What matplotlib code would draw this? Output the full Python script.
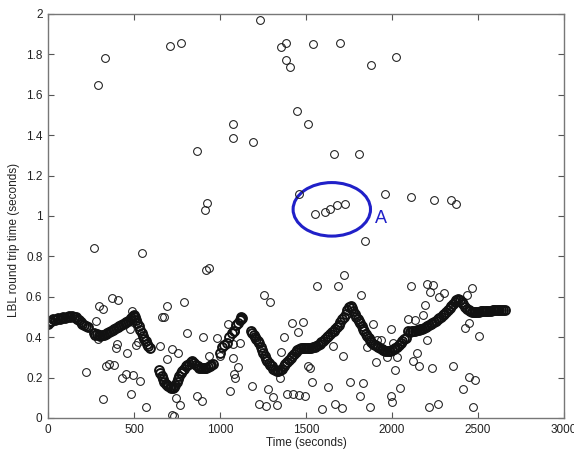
import numpy as np
import matplotlib
matplotlib.use("Agg")
import matplotlib.pyplot as plt
from matplotlib.patches import Ellipse

# dense trace of round trip times, one block per segment (time s, rtt s)
seg1_t = [0, 10, 20, 30, 40, 50, 60, 70, 80, 90, 100, 110, 120, 130, 140, 150, 160, 170, 180, 190,
          200, 210, 220, 230]
seg1_y = [0.465, 0.475, 0.48, 0.49, 0.485, 0.49, 0.495, 0.49, 0.495, 0.50, 0.495, 0.50, 0.505, 0.50,
          0.505, 0.50, 0.50, 0.49, 0.485, 0.475, 0.465, 0.46, 0.455, 0.45]

seg2_t = [265, 275, 285, 295, 305, 315, 325, 335, 345, 355, 365, 375, 385, 395, 405, 415, 425, 435,
          445, 455, 465, 475, 485, 492, 500, 505, 512, 520, 528, 536, 544, 552, 560, 568, 576, 584, 592]
seg2_y = [0.42, 0.41, 0.415, 0.41, 0.405, 0.41, 0.41, 0.415, 0.42, 0.425, 0.43, 0.435, 0.44, 0.445,
          0.45, 0.455, 0.46, 0.465, 0.47, 0.475, 0.48, 0.485, 0.495, 0.505, 0.51, 0.50, 0.485, 0.47,
          0.455, 0.435, 0.42, 0.405, 0.39, 0.38, 0.365, 0.355, 0.345]

seg3_t = [645, 652, 660, 668, 676, 684, 692, 700, 708, 716, 724, 732, 740, 748, 756, 764, 772, 780,
          790, 800, 810, 820, 830, 840, 850, 860, 870, 880, 890, 900, 910, 920, 930, 940, 950, 960]
seg3_y = [0.24, 0.225, 0.21, 0.195, 0.18, 0.17, 0.165, 0.16, 0.155, 0.15, 0.15, 0.155, 0.165, 0.18,
          0.195, 0.21, 0.225, 0.235, 0.245, 0.255, 0.262, 0.268, 0.275, 0.28, 0.27, 0.26, 0.255, 0.25,
          0.25, 0.248, 0.25, 0.25, 0.252, 0.255, 0.26, 0.265]

seg4_t = [1000, 1010, 1025, 1040, 1055, 1070, 1080, 1095, 1105, 1115, 1120, 1125, 1130]
seg4_y = [0.32, 0.35, 0.36, 0.37, 0.40, 0.42, 0.43, 0.46, 0.47, 0.485, 0.49, 0.50, 0.495]

seg5_t = [1180, 1188, 1196, 1204, 1212, 1220, 1228, 1236, 1244, 1252, 1260, 1268, 1276, 1284, 1292,
          1300, 1310, 1320, 1330, 1340, 1350, 1360, 1370, 1380, 1390, 1400, 1410, 1420, 1430, 1440,
          1450, 1460, 1470, 1480, 1490, 1500, 1510, 1520, 1530, 1540, 1550, 1560, 1570, 1580, 1590,
          1600, 1610, 1620, 1630, 1640, 1650, 1660, 1670, 1680, 1690, 1700, 1710, 1720, 1730, 1740,
          1750, 1760, 1768, 1776, 1784, 1792, 1800, 1808, 1816, 1824, 1832, 1840, 1848, 1856, 1864,
          1872, 1880, 1890, 1900, 1910, 1920, 1930, 1940, 1950, 1960, 1970, 1980, 1990, 2000, 2010,
          2020, 2030, 2040, 2050, 2060, 2070, 2080]
seg5_y = [0.43, 0.42, 0.41, 0.40, 0.39, 0.38, 0.37, 0.35, 0.335, 0.32, 0.305, 0.29, 0.28, 0.27, 0.26,
          0.255, 0.245, 0.24, 0.235, 0.235, 0.24, 0.245, 0.255, 0.265, 0.275, 0.285, 0.295, 0.305,
          0.315, 0.325, 0.335, 0.34, 0.345, 0.345, 0.345, 0.345, 0.345, 0.345, 0.345, 0.35, 0.35,
          0.355, 0.36, 0.365, 0.375, 0.38, 0.39, 0.40, 0.405, 0.415, 0.425, 0.43, 0.44, 0.45, 0.46,
          0.475, 0.49, 0.50, 0.515, 0.535, 0.55, 0.555, 0.545, 0.53, 0.515, 0.50, 0.49, 0.48, 0.47,
          0.455, 0.44, 0.43, 0.415, 0.405, 0.395, 0.385, 0.375, 0.365, 0.36, 0.355, 0.35, 0.345,
          0.34, 0.335, 0.33, 0.33, 0.33, 0.33, 0.335, 0.34, 0.345, 0.35, 0.36, 0.37, 0.38, 0.39, 0.395]

seg6_t = [2095, 2105, 2115, 2125, 2135, 2145, 2155, 2165, 2175, 2185, 2195, 2205, 2215, 2225, 2235,
          2245, 2255, 2265, 2275, 2285, 2295, 2305, 2315, 2325, 2335, 2345, 2355, 2365, 2375, 2385,
          2395, 2405, 2415, 2425, 2435, 2445, 2455, 2465, 2475, 2485, 2495, 2505, 2515, 2525, 2535,
          2545, 2555, 2565, 2575, 2585, 2595, 2605, 2615, 2625, 2635, 2645, 2655]
seg6_y = [0.43, 0.425, 0.43, 0.43, 0.43, 0.435, 0.435, 0.44, 0.44, 0.445, 0.45, 0.455, 0.46, 0.465,
          0.47, 0.475, 0.48, 0.49, 0.495, 0.50, 0.51, 0.515, 0.525, 0.535, 0.545, 0.555, 0.565, 0.575,
          0.585, 0.59, 0.585, 0.575, 0.565, 0.55, 0.54, 0.535, 0.53, 0.525, 0.525, 0.525, 0.525, 0.525,
          0.528, 0.53, 0.53, 0.53, 0.53, 0.532, 0.532, 0.533, 0.533, 0.535, 0.535, 0.535, 0.535,
          0.535, 0.535]

# scattered outliers
out_t = [290, 330, 709, 773, 1233, 1355, 1382, 1384, 1405, 1450, 864, 1077, 1074, 1194, 924, 911,
         267, 547, 917, 934, 1543, 1700, 1880, 2025, 1514, 1663, 1810, 1457, 1552, 1610, 1640, 1682,
         1729, 1961, 2112, 2246, 2345, 2372, 1845, 1723, 1566, 1688, 2108, 2201, 2236, 2465,
         219, 277, 295, 322, 370, 407, 292, 318, 337, 355, 382, 395, 403, 428, 452, 459, 483, 494,
         512, 525, 535, 475, 568, 488, 651, 661, 674, 690, 719, 758, 694, 744, 769, 723, 731, 791,
         806, 864, 895, 901, 938, 985, 1000, 1048, 1058, 1074, 1077, 1083, 1089, 1103, 1089, 1116,
         1188, 1227, 1265, 1258, 1291, 1277, 1306, 1333, 1349, 1355, 1374, 1391, 1426, 1420, 1455,
         1461, 1494, 1484, 1820, 1659, 1713, 1891, 1856, 1911, 1934, 1905, 1992, 2008, 1969, 2031,
         2017, 2047, 1994, 2000, 2095, 2134, 2182, 2192, 2147, 2124, 2159, 2201, 2231, 2221, 2275,
         2304, 2217, 2269, 2353, 2415, 2448, 2484, 2469, 2424, 2448, 2508, 2434, 1595, 1669, 1707,
         1872, 1537, 1626, 1756, 1833, 1814, 1513, 1525]
out_y = [1.65, 1.78, 1.84, 1.855, 1.97, 1.835, 1.855, 1.77, 1.74, 1.52, 1.32, 1.455, 1.385, 1.365,
         1.064, 1.028, 0.84, 0.817, 0.733, 0.741, 1.85, 1.855, 1.747, 1.786, 1.457, 1.307, 1.305,
         1.107, 1.008, 1.021, 1.036, 1.054, 1.059, 1.107, 1.094, 1.078, 1.079, 1.058, 0.876, 0.708,
         0.655, 0.655, 0.653, 0.663, 0.657, 0.645,
         0.229, 0.482, 0.554, 0.54, 0.596, 0.584, 0.39, 0.093, 0.257, 0.266, 0.262, 0.345, 0.365,
         0.2, 0.218, 0.323, 0.12, 0.214, 0.36, 0.378, 0.185, 0.439, 0.056, 0.53, 0.356, 0.502, 0.502,
         0.554, 0.34, 0.323, 0.29, 0.099, 0.063, 0.015, 0.01, 0.576, 0.422, 0.11, 0.086, 0.403,
         0.305, 0.394, 0.307, 0.465, 0.135, 0.365, 0.299, 0.218, 0.196, 0.251, 0.432, 0.37, 0.158,
         0.069, 0.059, 0.609, 0.576, 0.142, 0.105, 0.063, 0.196, 0.328, 0.403, 0.119, 0.119, 0.469,
         0.427, 0.114, 0.109, 0.477, 0.609, 0.358, 0.307, 0.464, 0.353, 0.386, 0.386, 0.279, 0.439,
         0.37, 0.3, 0.3, 0.238, 0.15, 0.109, 0.081, 0.49, 0.485, 0.51, 0.559, 0.323, 0.282, 0.257,
         0.386, 0.246, 0.625, 0.6, 0.617, 0.056, 0.068, 0.257, 0.142, 0.205, 0.188, 0.056, 0.444,
         0.469, 0.406, 0.609, 0.045, 0.068, 0.048, 0.056, 0.18, 0.152, 0.18, 0.172, 0.11, 0.257,
         0.25]

# annotation "A" around the cluster near t=1650
ell_center = (1650, 1.033)
ell_width = 450
ell_height = 0.265

band_t = np.concatenate([seg1_t, seg2_t, seg3_t, seg4_t, seg5_t, seg6_t])
band_y = np.concatenate([seg1_y, seg2_y, seg3_y, seg4_y, seg5_y, seg6_y])

plt.rcParams['font.family'] = ['Liberation Sans', 'DejaVu Sans']

fig = plt.figure(figsize=(5.74, 4.49), dpi=100)
ax = fig.add_axes([48 / 574, 1 - 418 / 449, 516 / 574, 404 / 449])

ax.plot(out_t, out_y, 'o', markersize=5.6, markerfacecolor='none',
        markeredgecolor='#1a1a1a', markeredgewidth=0.75, linestyle='none')
ax.plot(band_t, band_y, 'o', markersize=6.4, markerfacecolor='none',
        markeredgecolor='#111111', markeredgewidth=1.4, linestyle='none')

ax.add_patch(Ellipse(ell_center, ell_width, ell_height, fill=False,
                     edgecolor='#2020c8', linewidth=2.2))
ax.text(1900, 0.99, 'A', color='#2020c8', fontsize=13, ha='left', va='center')

ax.set_xlim(0, 3000)
ax.set_ylim(0, 2)
ax.set_xticks(np.arange(0, 3001, 500))
ax.set_yticks(np.arange(0, 2.01, 0.2))
ax.set_yticklabels(['0', '0.2', '0.4', '0.6', '0.8', '1', '1.2', '1.4', '1.6', '1.8', '2'])
ax.tick_params(direction='in', top=True, right=True, length=4, width=0.8, pad=4,
               labelsize=8.5, colors='#555555', labelcolor='#222222')
for s in ax.spines.values():
    s.set_color('#777777')
    s.set_linewidth(1.0)

ax.set_xlabel('Time (seconds)', fontsize=8.5, color='#222222', labelpad=1)
ax.set_ylabel('LBL round trip time (seconds)', fontsize=8.5, color='#222222')
ax.yaxis.set_label_coords(-0.054, 0.44)

fig.savefig('out.png', dpi=100)
